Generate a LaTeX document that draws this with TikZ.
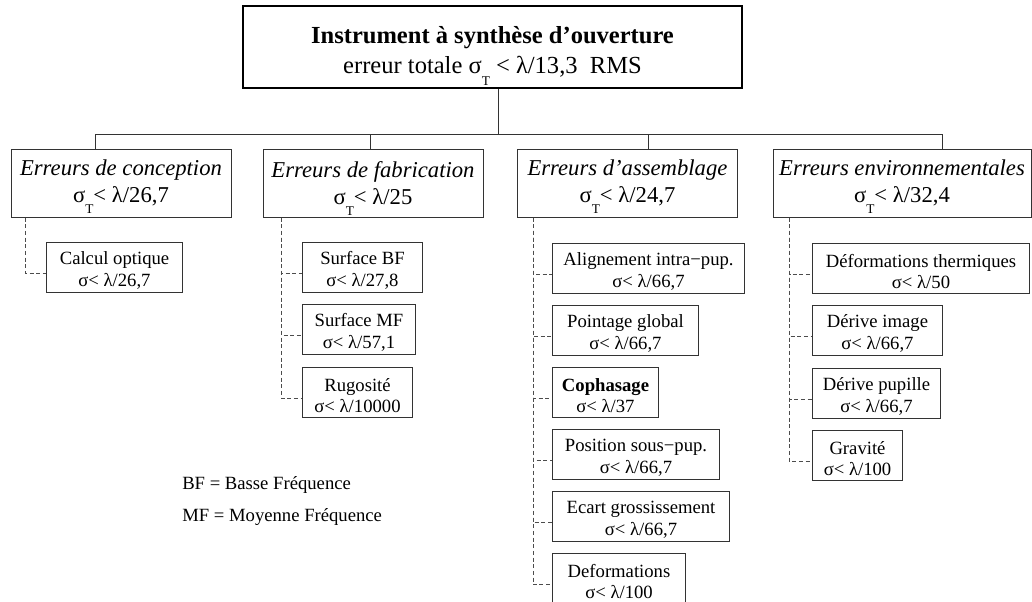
\documentclass[tikz,border=0pt]{standalone}
\usepackage{fontspec}
\setmainfont{Liberation Serif}
\usepackage{tikz}
\usetikzlibrary{positioning}
\usetikzlibrary{calc}
\tikzstyle{topbox} = [rectangle, draw=black, line width=1.5pt, inner sep=0pt, minimum width=374pt, minimum height=61.5pt, align=center, font=\fontsize{18.4}{22.5}\selectfont]
\tikzstyle{catbox} = [rectangle, draw=black!80, line width=0.75pt, inner sep=0pt, minimum width=165pt, minimum height=51pt, align=center, font=\fontsize{17}{20}\selectfont]
\tikzstyle{subbox} = [rectangle, draw=black!80, line width=0.75pt, inner sep=0pt, minimum height=37.5pt, align=center, font=\fontsize{14}{16}\selectfont]
\tikzstyle{link} = [black!80, line width=0.75pt]
\tikzstyle{dashlink} = [black!70, line width=0.6pt, dash pattern=on 3pt off 2pt]
\tikzstyle{legend} = [anchor=west, inner sep=0pt, font=\fontsize{14}{16}\selectfont]
\newcommand{\sigT}{σ\raisebox{-0.5em}[0pt][0pt]{\fontsize{10}{10}\selectfont T}}
\newcommand{\lift}[1]{\rule{0pt}{#1}}

\begin{document}
\begin{tikzpicture}[x=0.75pt, y=-0.75pt]
    \useasboundingbox (0,0) rectangle (1032,601);
    \clip (0,0) rectangle (1032,601);
    \node (top) [topbox] at (492.5,47) {\lift{20pt}\textbf{Instrument à synthèse d’ouverture}\\ erreur totale \sigT{} < λ/13,3~~RMS};

    \node (conc) [catbox] at (121,183) {\textit{Erreurs de conception}\\ \sigT< λ/26,7};
    \node (fabr) [catbox] at (373,183) {\textit{Erreurs de fabrication}\\ \sigT< λ/25};
    \node (asse) [catbox] at (627.5,183) {\textit{Erreurs d’assemblage}\\ \sigT< λ/24,7};
    \node (envi) [catbox, minimum width=193.5pt] at (902,183) {\textit{Erreurs environnementales}\\ \sigT< λ/32,4};

    \node (calc) [subbox, minimum width=102pt, anchor=north west] at (46,242) {\lift{14pt}Calcul optique\\ σ< λ/26,7};

    \node (sbf) [subbox, minimum width=90pt, anchor=north west] at (302,242) {\lift{14pt}Surface BF\\ σ< λ/27,8};
    \node (smf) [subbox, minimum width=84.75pt, below=8.25pt of sbf.south west, anchor=north west] {\lift{14pt}Surface MF\\ σ< λ/57,1};
    \node (rugo) [subbox, minimum width=82.5pt, below=9pt of smf.south west, anchor=north west] {\lift{14pt}Rugosité\\ σ< λ/10000};

    \node (alig) [subbox, minimum width=144pt, anchor=north west] at (552,243) {\lift{14pt}Alignement intra−pup.\\ σ< λ/66,7};
    \node (poin) [subbox, minimum width=109.5pt, below=8.25pt of alig.south west, anchor=north west] {\lift{14pt}Pointage global\\ σ< λ/66,7};
    \node (coph) [subbox, minimum width=79.5pt, below=8.25pt of poin.south west, anchor=north west] {\lift{14pt}\textbf{Cophasage}\\ σ< λ/37};
    \node (posi) [subbox, minimum width=125.25pt, below=8.25pt of coph.south west, anchor=north west] {\lift{14pt}Position sous−pup.\\ σ< λ/66,7};
    \node (ecar) [subbox, minimum width=132.75pt, below=8.25pt of posi.south west, anchor=north west] {\lift{14pt}Ecart grossissement\\ σ< λ/66,7};
    \node (defo) [subbox, minimum width=99.75pt, below=8.25pt of ecar.south west, anchor=north west] {\lift{14pt}Deformations\\ σ< λ/100};

    \node (ther) [subbox, minimum width=162.75pt, anchor=north west] at (812,243) {\lift{14pt}Déformations thermiques\\ σ< λ/50};
    \node (dima) [subbox, minimum width=97.5pt, below=8.25pt of ther.south west, anchor=north west] {\lift{14pt}Dérive image\\ σ< λ/66,7};
    \node (dpup) [subbox, minimum width=96pt, below=9pt of dima.south west, anchor=north west] {\lift{14pt}Dérive pupille\\ σ< λ/66,7};
    \node (grav) [subbox, minimum width=67.5pt, below=8.25pt of dpup.south west, anchor=north west] {\lift{14pt}Gravité\\ σ< λ/100};

    \node (bf) [legend] at (182,485) {BF = Basse Fréquence};
    \node (mf) [legend] at (182,517) {MF = Moyenne Fréquence};

    % tree
    \coordinate (hub) at (498,134);
    \coordinate (dropA) at (95,134);
    \coordinate (dropB) at (370,134);
    \coordinate (dropC) at (648,134);
    \coordinate (dropD) at (942,134);
    \draw [link] (top.south -| hub) -- (hub);
    \draw [link] (dropA) -- (dropD);
    \draw [link] (dropA) -- (dropA |- conc.north);
    \draw [link] (dropB) -- (dropB |- fabr.north);
    \draw [link] (dropC) -- (dropC |- asse.north);
    \draw [link] (dropD) -- (dropD |- envi.north);

    % dashed branches
    \draw [dashlink] ($(conc.south west)+(15,0)$) |- ($(calc.west)+(0,6)$);
    \draw [dashlink] ($(fabr.south west)+(19,0)$) |- ($(sbf.west)+(0,6)$);
    \draw [dashlink] ($(fabr.south west)+(19,0)$) |- ($(smf.west)+(0,6)$);
    \draw [dashlink] ($(fabr.south west)+(19,0)$) |- ($(rugo.west)+(0,6)$);
    \draw [dashlink] ($(asse.south west)+(16,0)$) |- ($(alig.west)+(0,6)$);
    \draw [dashlink] ($(asse.south west)+(16,0)$) |- ($(poin.west)+(0,6)$);
    \draw [dashlink] ($(asse.south west)+(16,0)$) |- ($(coph.west)+(0,6)$);
    \draw [dashlink] ($(asse.south west)+(16,0)$) |- ($(posi.west)+(0,6)$);
    \draw [dashlink] ($(asse.south west)+(16,0)$) |- ($(ecar.west)+(0,6)$);
    \draw [dashlink] ($(asse.south west)+(16,0)$) |- ($(defo.west)+(0,6)$);
    \draw [dashlink] ($(envi.south west)+(17,0)$) |- ($(ther.west)+(0,6)$);
    \draw [dashlink] ($(envi.south west)+(17,0)$) |- ($(dima.west)+(0,6)$);
    \draw [dashlink] ($(envi.south west)+(17,0)$) |- ($(dpup.west)+(0,6)$);
    \draw [dashlink] ($(envi.south west)+(17,0)$) |- ($(grav.west)+(0,6)$);
\end{tikzpicture}
\end{document}
